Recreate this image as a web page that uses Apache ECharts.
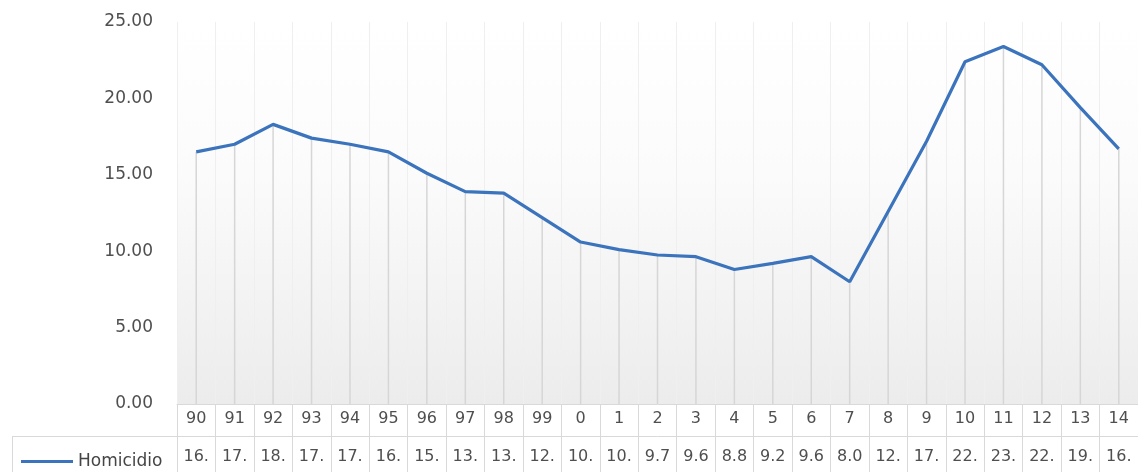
<!DOCTYPE html>
<html>
<head>
<meta charset="utf-8">
<script src="https://cdn.jsdelivr.net/npm/echarts@6/dist/echarts.min.js"></script>
<style>
html,body{margin:0;padding:0;background:#fff;}
#chart{width:1138px;height:472px;}
</style>
</head>
<body>
<div id="chart"></div>
<script>
var categories = ['90','91','92','93','94','95','96','97','98','99','0','1','2','3','4','5','6','7','8','9','10','11','12','13','14'];
var homicidio = [16.5,17.0,18.3,17.4,17.0,16.5,15.1,13.9,13.8,12.2,10.6,10.1,9.75,9.64,8.8,9.2,9.64,8.0,12.6,17.2,22.4,23.4,22.2,19.4,16.7];
var yTicks = {min:0, max:25, interval:5};
var seriesName = 'Homicidio';

var FONT = 'DejaVu Sans';
var TXT = '#4f4f4f';
var BORDER = '#d9d9d9';

var chart = echarts.init(document.getElementById('chart'), null, {renderer:'canvas'});
chart.setOption({
  animation:false,
  backgroundColor:'#ffffff',
  grid:{
    left:177, top:22, width:968, bottom:68,
    show:true, borderWidth:0,
    backgroundColor:new echarts.graphic.LinearGradient(0,0,0,1,[
      {offset:0,color:'#ffffff'},{offset:0.4,color:'#fbfbfb'},{offset:1,color:'#ececec'}
    ])
  },
  legend:{
    data:[seriesName], left:16, top:448,
    icon:'rect', itemWidth:52, itemHeight:3,
    textStyle:{fontFamily:FONT, fontSize:17, color:'#454545'},
    selectedMode:false
  },
  xAxis:[{
    type:'category', data:categories, position:'bottom',
    axisLine:{show:true, lineStyle:{color:BORDER, width:1}},
    axisTick:{show:true, interval:0, length:32, lineStyle:{color:BORDER}},
    axisLabel:{interval:0, margin:7, fontFamily:FONT, fontSize:16, color:TXT},
    splitLine:{show:true, interval:0, lineStyle:{color:'#efefef', width:1}}
  },{
    type:'category', data:categories, position:'bottom', offset:32,
    axisLine:{show:true, lineStyle:{color:BORDER, width:1}},
    axisTick:{show:true, interval:0, length:40, lineStyle:{color:BORDER}},
    axisLabel:{interval:0, margin:13, fontFamily:FONT, fontSize:16, color:TXT,
      formatter:function(v, i){ return homicidio[i].toFixed(2).slice(0,3); }}
  }],
  yAxis:{
    type:'value', min:yTicks.min, max:yTicks.max, interval:yTicks.interval,
    axisLine:{show:false}, axisTick:{show:false}, splitLine:{show:false},
    axisLabel:{margin:24, fontFamily:FONT, fontSize:17, color:TXT,
      formatter:function(v){ return v.toFixed(2); }}
  },
  graphic:[
    {type:'line', shape:{x1:12,y1:436.5,x2:177,y2:436.5}, style:{stroke:BORDER, lineWidth:1}, silent:true},
    {type:'line', shape:{x1:12.5,y1:436,x2:12.5,y2:472}, style:{stroke:BORDER, lineWidth:1}, silent:true}
  ],
  series:[{
    name:'drop', type:'bar', data:homicidio, xAxisIndex:0, barWidth:1.5,
    itemStyle:{color:'#d6d6d6'}, silent:true, z:1
  },{
    name:seriesName, type:'line', data:homicidio, xAxisIndex:0,
    symbol:'none', smooth:false,
    lineStyle:{color:'#3b74bc', width:3.2},
    itemStyle:{color:'#3b74bc'}, z:5
  }]
});
</script>
</body>
</html>
